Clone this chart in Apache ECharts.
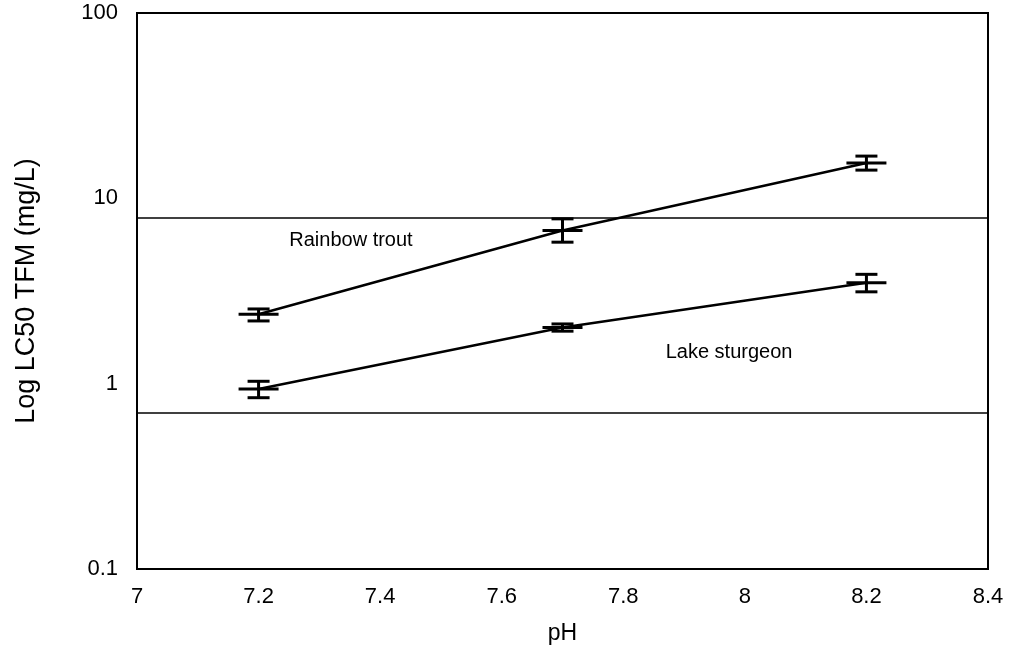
<!DOCTYPE html>
<html>
<head>
<meta charset="utf-8">
<script src="https://cdn.jsdelivr.net/npm/echarts@6/dist/echarts.min.js"></script>
<style>
  html, body { margin: 0; padding: 0; background: #fff; }
  #chart { width: 1014px; height: 653px; }
</style>
</head>
<body>
<div id="chart"></div>
<script>
// pH levels tested
var phLevels = [7.2, 7.7, 8.2];
// LC50 means and error bar ends (mg/L)
var troutMean = [2.37, 6.7, 15.5];
var troutLow = [2.18, 5.8, 14.2];
var troutHigh = [2.53, 7.75, 16.9];
var sturgeonMean = [0.935, 2.01, 3.5];
var sturgeonLow = [0.84, 1.92, 3.13];
var sturgeonHigh = [1.03, 2.1, 3.89];
// horizontal reference lines
var refLines = [7.9, 0.7];
// series labels placed in the plot [pH, mg/L, text]
var annotations = [[7.352, 5.9, 'Rainbow trout'], [7.974, 1.48, 'Lake sturgeon']];

var font = 'Liberation Sans, Arial, sans-serif';

function buildRows(mean, low, high) {
  return phLevels.map(function (p, i) { return [p, mean[i], low[i], high[i]]; });
}

// 误差线
function errorBars(api) {
  var x = api.value(0);
  var pm = api.coord([x, api.value(1)]);
  var pl = api.coord([x, api.value(2)]);
  var ph = api.coord([x, api.value(3)]);
  var cap = 11, dash = 20;
  var style = { stroke: '#000', lineWidth: 3 };
  return {
    type: 'group',
    children: [
      { type: 'line', shape: { x1: pl[0], y1: pl[1], x2: ph[0], y2: ph[1] }, style: style },
      { type: 'line', shape: { x1: pl[0] - cap, y1: pl[1], x2: pl[0] + cap, y2: pl[1] }, style: style },
      { type: 'line', shape: { x1: ph[0] - cap, y1: ph[1], x2: ph[0] + cap, y2: ph[1] }, style: style },
      { type: 'line', shape: { x1: pm[0] - dash, y1: pm[1], x2: pm[0] + dash, y2: pm[1] }, style: style }
    ]
  };
}

function meanLine(name, mean) {
  return {
    name: name,
    type: 'line',
    data: phLevels.map(function (p, i) { return [p, mean[i]]; }),
    symbol: 'none',
    lineStyle: { color: '#000', width: 2.5 },
    z: 3,
    silent: true
  };
}

var chart = echarts.init(document.getElementById('chart'));
chart.setOption({
  backgroundColor: '#fff',
  animation: false,
  grid: {
    left: 137, top: 13, right: 26, bottom: 84,
    show: true, borderColor: '#000', borderWidth: 2
  },
  xAxis: {
    type: 'value',
    min: 7, max: 8.4, interval: 0.2,
    name: 'pH', nameLocation: 'middle', nameGap: 53,
    nameTextStyle: { fontFamily: font, fontSize: 23, color: '#000' },
    axisLine: { show: false },
    axisTick: { show: false },
    splitLine: { show: false },
    axisLabel: {
      fontFamily: font, fontSize: 22, color: '#000', margin: 17,
      formatter: function (v) { return String(Math.round(v * 10) / 10); }
    }
  },
  yAxis: {
    type: 'log', logBase: 10,
    min: 0.1, max: 100,
    name: 'Log LC50 TFM (mg/L)', nameLocation: 'middle', nameGap: 97, nameRotate: 90,
    nameTextStyle: { fontFamily: font, fontSize: 27, color: '#000' },
    axisLine: { show: false },
    axisTick: { show: false },
    splitLine: { show: false },
    minorTick: { show: false },
    axisLabel: {
      fontFamily: font, fontSize: 22, color: '#000', margin: 19,
      formatter: function (v) { return String(+v); }
    }
  },
  series: [
    meanLine('Rainbow trout', troutMean),
    meanLine('Lake sturgeon', sturgeonMean),
    {
      type: 'custom', name: 'trout err',
      data: buildRows(troutMean, troutLow, troutHigh),
      renderItem: function (params, api) { return errorBars(api); },
      z: 4, silent: true
    },
    {
      type: 'custom', name: 'sturgeon err',
      data: buildRows(sturgeonMean, sturgeonLow, sturgeonHigh),
      renderItem: function (params, api) { return errorBars(api); },
      z: 4, silent: true,
      markLine: {
        silent: true, symbol: 'none', label: { show: false },
        lineStyle: { color: '#000', width: 1.5, type: 'solid' },
        data: refLines.map(function (v) { return { yAxis: v }; })
      }
    },
    {
      type: 'scatter', name: 'labels',
      data: annotations.map(function (a) { return { value: [a[0], a[1]], name: a[2] }; }),
      symbolSize: 0,
      silent: true,
      itemStyle: { opacity: 1 },
      label: {
        show: true, position: 'inside', formatter: '{b}',
        fontFamily: font, fontSize: 20, color: '#000',
        textBorderWidth: 0
      }
    }
  ]
});
</script>
</body>
</html>
